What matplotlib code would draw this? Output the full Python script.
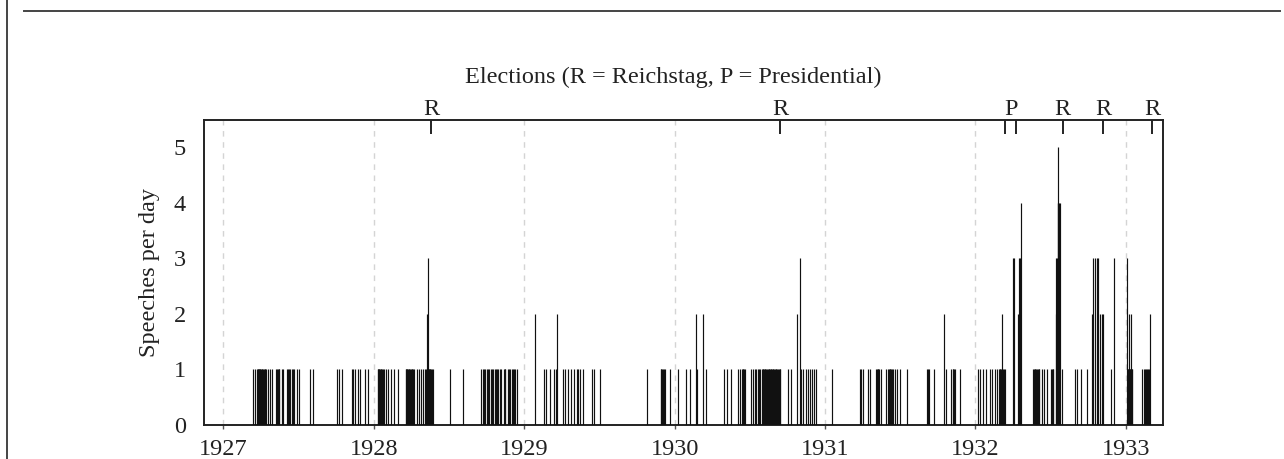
import matplotlib
matplotlib.use("Agg")
import matplotlib.pyplot as plt
import matplotlib.dates as mdates
from matplotlib.lines import Line2D
from matplotlib.transforms import blended_transform_factory
import pandas as pd
import numpy as np

# ---- data: day offsets (days after Jan 1) with one speech ----
single_1927 = [73, 77, 81, 83, 84, 86, 87, 89, 90, 92, 94, 95, 97, 99, 100, 102, 104, 108, 113, 118,
               128, 130, 132, 134, 136, 142, 145, 155, 158, 160, 162, 166, 169, 172, 178, 184, 211, 217,
               276, 280, 288, 312, 316, 320, 326, 331, 344, 352]
single_1928 = [10, 11, 13, 14, 16, 17, 19, 20, 22, 24, 30, 36, 41, 50, 60, 78, 79, 81, 82, 84, 86, 87,
               89, 90, 92, 94, 95, 99, 105, 109, 115, 120, 124, 126, 134, 135, 137, 138, 140, 141, 143,
               186, 217, 261, 265, 268, 271, 275, 277, 280, 285, 287, 290, 294, 297,
               299, 303, 306, 310, 316, 318, 320, 326, 329, 332, 337, 339, 341, 344, 348]
single_1929 = [47, 53, 63, 73, 76, 93, 98, 106, 114, 120, 127, 131, 134, 143, 165, 170, 183, 297,
               331, 333, 335, 337, 339, 341, 353]
single_1930 = [8, 28, 38, 54, 75, 121, 127, 137, 155, 159, 163, 165, 167, 169, 171, 185, 190, 194, 198,
               202, 205, 208, 212, 214, 215, 217, 219, 220, 222, 224, 226, 228, 229, 231, 233, 235, 237,
               238, 240, 242, 244, 246, 247, 249, 251, 253, 255, 257, 275, 282, 308, 312, 318, 323, 328,
               333, 338, 343]
single_1931 = [17, 84, 88, 92, 104, 110, 124, 126, 128, 130, 132, 136, 149, 152, 155, 157, 159, 161,
               163, 166, 169, 175, 183, 199, 248, 250, 252, 265, 295, 306, 310, 312, 314, 316, 328]
single_1932 = [6, 12, 18, 25, 36, 41, 47, 52, 57, 59, 61, 63, 65, 67, 69, 73, 140, 142, 144, 146, 148,
               150, 152, 154, 156, 162, 166, 174, 184, 186, 188, 190, 210, 243, 248, 256, 271, 329]
single_1933 = [5, 6, 9, 10, 14, 15, 39, 45, 47, 49, 51, 53, 55]

# ---- days with more than one speech ----
multi_dates = ['1928-05-09', '1928-05-12',
               '1929-01-26', '1929-03-22',
               '1930-02-22', '1930-03-11', '1930-10-24', '1930-11-01',
               '1931-10-18',
               '1932-03-05', '1932-04-02', '1932-04-04', '1932-04-14', '1932-04-17', '1932-04-19',
               '1932-04-21', '1932-07-15', '1932-07-16', '1932-07-18', '1932-07-19', '1932-07-20',
               '1932-07-21', '1932-07-23', '1932-07-25', '1932-10-10', '1932-10-14', '1932-10-18',
               '1932-10-22', '1932-10-26', '1932-10-30', '1932-11-03', '1932-11-07', '1932-12-02',
               '1933-01-04', '1933-01-08', '1933-01-13', '1933-03-01']
multi_counts = [2, 3,
                2, 2,
                2, 2, 2, 3,
                2,
                2, 3, 3, 2, 3, 3,
                4, 2, 3, 3, 4, 5,
                4, 4, 4, 2, 3, 3,
                3, 3, 2, 2, 2, 3,
                3, 2, 2, 2]

election_dates = ['1928-05-20', '1930-09-14', '1932-03-13', '1932-04-10', '1932-07-31',
                  '1932-11-06', '1933-03-05']
election_types = ['R', 'R', 'P', 'P', 'R', 'R', 'R']

year_ticks = [1927, 1928, 1929, 1930, 1931, 1932, 1933]

# ---- assemble ----
singles = {1927: single_1927, 1928: single_1928, 1929: single_1929, 1930: single_1930,
           1931: single_1931, 1932: single_1932, 1933: single_1933}
dates, counts = [], []
for yr, offs in singles.items():
    for d in offs:
        dates.append(pd.Timestamp(f"{yr}-01-01") + pd.Timedelta(days=d))
        counts.append(1)
for ds, c in zip(multi_dates, multi_counts):
    dates.append(pd.Timestamp(ds))
    counts.append(c)
x = mdates.date2num(pd.to_datetime(dates).to_pydatetime())
counts = np.array(counts)

plt.rcParams['font.family'] = ['Liberation Serif', 'DejaVu Serif']
FS = 17.5
TXT = '#222222'

W, H = 1284, 459
fig = plt.figure(figsize=(W / 100, H / 100), dpi=100)
ax = fig.add_axes([204 / W, 1 - 425 / H, (1163 - 204) / W, (425 - 120) / H])

ax.vlines(x, 0, counts, colors='#111111', linewidth=0.85, zorder=3)

ax.set_xlim(mdates.date2num(pd.Timestamp('1926-11-15')), mdates.date2num(pd.Timestamp('1933-04-01')))
ax.set_ylim(0, 5.49)

yt = [mdates.date2num(pd.Timestamp(f"{y}-01-01")) for y in year_ticks]
ax.set_xticks(yt)
ax.set_xticklabels([str(y) for y in year_ticks])
ax.set_yticks([0, 1, 2, 3, 4, 5])
for xv in yt:
    ax.axvline(xv, color='#d4d4d4', linewidth=1.0, dashes=(4, 4), zorder=1)

ax.tick_params(axis='x', direction='out', length=3, width=1, color='#555555', pad=7,
               labelsize=FS, labelcolor=TXT)
ax.tick_params(axis='y', length=0, pad=13, labelsize=FS, labelcolor=TXT)
ax.set_ylabel('Speeches per day', fontsize=FS, color=TXT, labelpad=10)

for s in ax.spines.values():
    s.set_linewidth(1.4)
    s.set_color('#222222')

# elections on a top axis
ex = [mdates.date2num(pd.Timestamp(d)) for d in election_dates]
top = ax.secondary_xaxis('top')
top.set_xticks(ex)
top.set_xticklabels([''] * len(ex))
top.tick_params(direction='in', length=10, width=1.4, color='#222222')
top.spines['top'].set_visible(False)

trans = blended_transform_factory(ax.transData, ax.transAxes)
groups = []
for xv, t in zip(ex, election_types):
    if groups and groups[-1][0] == t and xv - groups[-1][1][-1] < 60:
        groups[-1][1].append(xv)
    else:
        groups.append((t, [xv]))
for t, xs in groups:
    ax.annotate(t, xy=(np.mean(xs), 1.0), xycoords=trans, xytext=(0, 0.3),
                textcoords='offset points', ha='center', va='bottom', fontsize=FS, color=TXT)

fig.text(673 / W, 1 - 77 / H, 'Elections (R = Reichstag, P = Presidential)', ha='center',
         va='center', fontsize=FS, color=TXT)

# outer frame lines
fig.add_artist(Line2D([7 / W, 7 / W], [0, 1], color='#444444', linewidth=1.4))
fig.add_artist(Line2D([24 / W, 1280 / W], [1 - 11 / H, 1 - 11 / H], color='#444444', linewidth=1.4))

fig.savefig('out.png', dpi=100)
